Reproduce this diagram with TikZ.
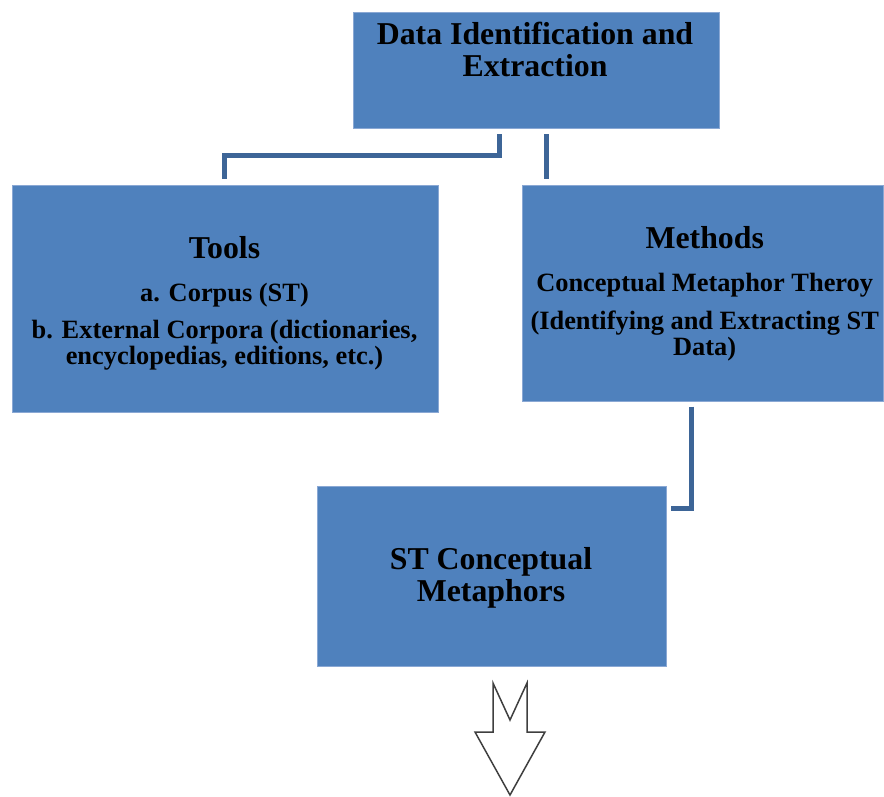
\documentclass[tikz,border=0pt]{standalone}
\usepackage{fontspec}
\setmainfont{Liberation Serif}
\definecolor{boxblue}{HTML}{4F81BD}
\definecolor{boxedge}{HTML}{8AA8D4}
\definecolor{linkblue}{HTML}{3D6597}
\definecolor{arrowgray}{HTML}{3F3F3F}
\begin{document}
\begin{tikzpicture}[x=1pt,y=-1pt,
  panel/.style={draw=boxedge,line width=1pt,fill=boxblue,anchor=north west,inner sep=0pt},
  head/.style={anchor=base,inner sep=0pt,font=\bfseries\fontsize{31.8}{32}\selectfont},
  sub/.style={anchor=base,inner sep=0pt,font=\bfseries\fontsize{26.4}{27}\selectfont},
  link/.style={draw=linkblue,line width=5pt,line cap=butt,line join=miter}]
\useasboundingbox (0,0) rectangle (884,796);

% boxes
\node[panel,minimum width=366pt,minimum height=116pt] (top) at (353,12) {};
\node[panel,minimum width=426pt,minimum height=227pt] (tools) at (12,184.5) {};
\node[panel,minimum width=361pt,minimum height=216.5pt] (methods) at (522,184.5) {};
\node[panel,minimum width=349pt,minimum height=180pt] (stcm) at (317,485.5) {};

% top box text
\node[head] (t1) at (535,44.3) {Data Identification and};
\node[head] (t2) at (535,76.7) {Extraction};

% tools text
\node[head] (tl1) at (224.5,258.3) {Tools};
\node[sub] (tl2) at (224.5,301) {a. Corpus (ST)};
\node[sub] (tl3) at (224.5,338.3) {b. External Corpora (dictionaries,};
\node[sub] (tl4) at (224.5,364.3) {encyclopedias, editions, etc.)};

% methods text
\node[head] (m1) at (704.7,248.3) {Methods};
\node[sub] (m2) at (704.7,291) {Conceptual Metaphor Theroy};
\node[sub] (m3) at (704.7,329) {(Identifying and Extracting ST};
\node[sub] (m4) at (704.7,355.7) {Data)};

% result text
\node[head] (s1) at (491,569.3) {ST Conceptual};
\node[head] (s2) at (491,601) {Metaphors};

% connector end points
\coordinate (a0) at (499,134.3);
\coordinate (a1) at (499,155.3);
\coordinate (a2) at (224.5,155.3);
\coordinate (a3) at (224.5,179);
\coordinate (b0) at (546.2,134.3);
\coordinate (b1) at (546.2,179);
\coordinate (c0) at (691.8,406.7);
\coordinate (c1) at (691.8,508);
\coordinate (c2) at (671,508);

\draw[link] (a0) -- (a1) -- (a2) -- (a3);
\draw[link] (b0) -- (b1);
\draw[link] (c0) -- (c1) -- (c2);

% hollow down arrow below the result box
\draw[arrowgray,line width=1.5pt,fill=white,line join=miter]
  (493,683) -- (510,720) -- (527,683) -- (527,732) -- (545,732)
  -- (510,795) -- (475,732) -- (493,732) -- cycle;
\end{tikzpicture}
\end{document}
